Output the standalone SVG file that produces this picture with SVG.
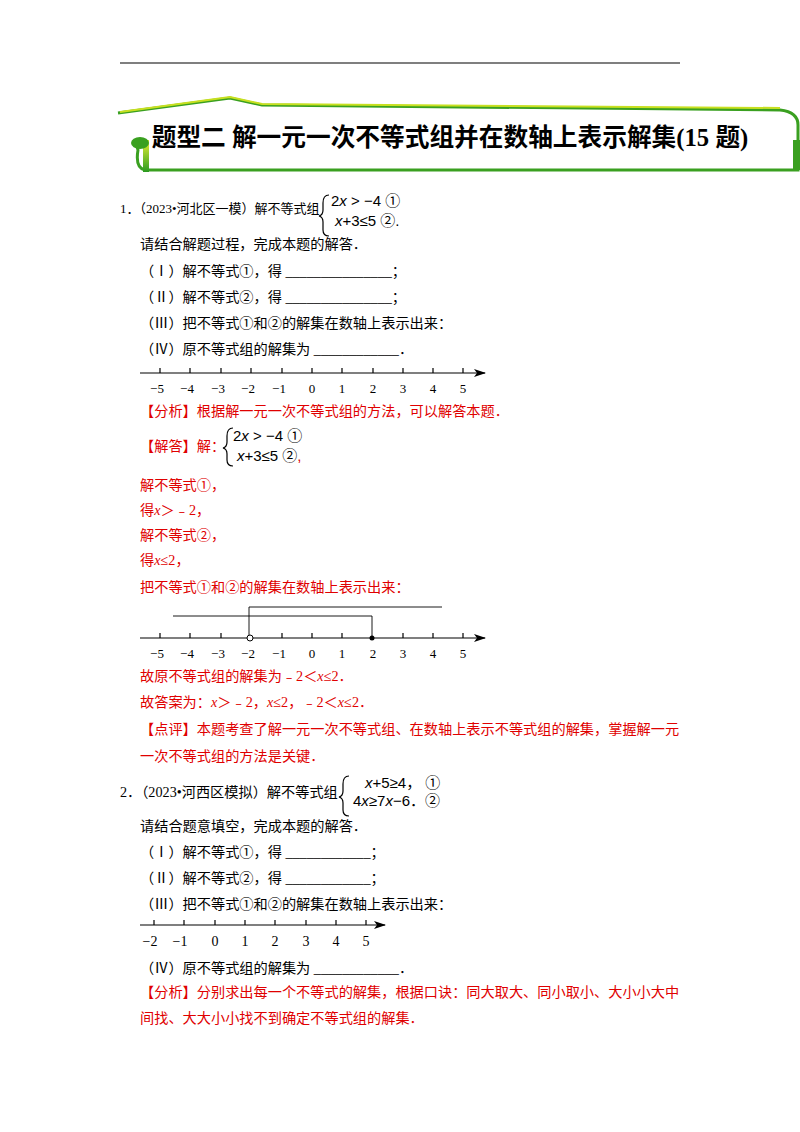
<svg xmlns="http://www.w3.org/2000/svg" width="800" height="1132" viewBox="0 0 800 1132">
<defs>
<linearGradient id="g" x1="0" y1="0" x2="0" y2="1"><stop offset="0" stop-color="#d8e830"/><stop offset="1" stop-color="#2a9a20"/></linearGradient>
<marker id="ar" markerWidth="12" markerHeight="8" refX="11" refY="4" orient="auto" markerUnits="userSpaceOnUse"><path d="M0,0 L12,4 L0,8 L3,4 Z" fill="#000"/></marker>
</defs>
<style>
text{font-family:"Liberation Serif","Noto Sans CJK SC",serif;font-size:14.2px;fill:#000}
.r{fill:#e00000}
.m{font-family:"Liberation Sans","Noto Sans CJK SC",sans-serif;font-size:15px}
.mi{font-family:"Liberation Sans",sans-serif;font-size:15px;font-style:italic}
.ax{stroke:#000;stroke-width:1.2;fill:none}
.t{font-family:"Liberation Serif",serif;font-size:13px;text-anchor:middle}
</style>
<rect width="800" height="1132" fill="#fff"/>
<line x1="120" y1="63" x2="680" y2="63" stroke="#000" stroke-width="1.2"/>
<g id="banner">
<path d="M118,113 L230,98 L262,105 L780,110 Q798,112 798,125 L798,170 L145,170 Q135,168 138,150 L135,140" fill="none" stroke="#3aa020" stroke-width="3"/>
<path d="M120,112 L230,97 L262,104 L780,108" fill="none" stroke="#c8e020" stroke-width="2"/>
<path d="M138,143 L146,143 L146,172" fill="none" stroke="url(#g)" stroke-width="6"/>
<ellipse cx="140" cy="143" rx="9" ry="6" fill="#3aa020"/>
<rect x="793" y="140" width="7" height="30" fill="#3aa020"/>
<text x="450" y="146" text-anchor="middle" style="font-family:'Liberation Serif','Noto Sans CJK SC',serif;font-size:24.7px;font-weight:bold">题型二 解一元一次不等式组并在数轴上表示解集(15 题)</text>
</g>
<g id="q1">
<text x="120" y="213" style="font-size:13px">1．（2023•河北区一模）解不等式组</text>
<path d="M329,195 Q323,195 323,203 L323,210 Q323,215 319,216 Q323,217 323,222 L323,230 Q323,236 329,236" class="ax" stroke-width="1"/>
<text x="331" y="206" class="m">2<tspan class="mi">x</tspan> &gt; −4 ①</text>
<text x="335" y="226" class="m"><tspan class="mi">x</tspan>+3≤5 ②.</text>
<text x="140" y="249">请结合解题过程，完成本题的解答．</text>
<text x="140" y="276">（Ⅰ）解不等式①，得 _______________；</text>
<text x="140" y="302">（Ⅱ）解不等式②，得 _______________；</text>
<text x="140" y="328">（Ⅲ）把不等式①和②的解集在数轴上表示出来：</text>
<text x="140" y="354">（Ⅳ）原不等式组的解集为 ____________．</text>
</g>
<g id="axis1">
<line x1="140" y1="373" x2="485" y2="373" class="ax" marker-end="url(#ar)"/>
<path d="M160,368V373M190,368V373M221,368V373M251,368V373M282,368V373M312,368V373M342,368V373M373,368V373M403,368V373M433,368V373M463,368V373" class="ax"/>
<text class="t" y="393"><tspan x="157">−5</tspan><tspan x="187">−4</tspan><tspan x="218">−3</tspan><tspan x="248">−2</tspan><tspan x="279">−1</tspan><tspan x="312">0</tspan><tspan x="342">1</tspan><tspan x="373">2</tspan><tspan x="403">3</tspan><tspan x="433">4</tspan><tspan x="463">5</tspan></text>
</g>
<g id="ans1">
<text x="140" y="416" class="r">【分析】根据解一元一次不等式组的方法，可以解答本题．</text>
<text x="140" y="451" class="r">【解答】解：</text>
<path d="M233,428 Q227,428 227,436 L227,442 Q227,447 223,448 Q227,449 227,454 L227,460 Q227,466 233,466" class="ax" stroke-width="1"/>
<text x="233" y="441" class="m">2<tspan class="mi">x</tspan> &gt; −4 ①</text>
<text x="237" y="461" class="m"><tspan class="mi">x</tspan>+3≤5 ②<tspan fill="#e00000">,</tspan></text>
<text x="140" y="490" class="r">解不等式①，</text>
<text x="140" y="515" class="r">得<tspan font-style="italic">x</tspan>＞﹣2，</text>
<text x="140" y="540" class="r">解不等式②，</text>
<text x="140" y="565" class="r">得<tspan font-style="italic">x</tspan>≤2，</text>
<text x="140" y="592" class="r">把不等式①和②的解集在数轴上表示出来：</text>
</g>
<g id="axis2">
<line x1="140" y1="638" x2="485" y2="638" class="ax" marker-end="url(#ar)"/>
<path d="M160,633V638M190,633V638M221,633V638M282,633V638M312,633V638M342,633V638M403,633V638M433,633V638M463,633V638" class="ax"/>
<path d="M173,616H372V638M249,638V607H442" fill="none" stroke="#000" stroke-width="0.9"/>
<circle cx="250" cy="638" r="3" fill="#fff" stroke="#000"/>
<circle cx="372" cy="638" r="2.5" fill="#000"/>
<text class="t" y="658"><tspan x="157">−5</tspan><tspan x="187">−4</tspan><tspan x="218">−3</tspan><tspan x="248">−2</tspan><tspan x="279">−1</tspan><tspan x="312">0</tspan><tspan x="342">1</tspan><tspan x="373">2</tspan><tspan x="403">3</tspan><tspan x="433">4</tspan><tspan x="463">5</tspan></text>
<text x="140" y="681" class="r">故原不等式组的解集为﹣2＜<tspan font-style="italic">x</tspan>≤2．</text>
<text x="140" y="707" class="r">故答案为：<tspan font-style="italic">x</tspan>＞﹣2，<tspan font-style="italic">x</tspan>≤2，﹣2＜<tspan font-style="italic">x</tspan>≤2．</text>
<text x="140" y="734" class="r">【点评】本题考查了解一元一次不等式组、在数轴上表示不等式组的解集，掌握解一元</text>
<text x="140" y="761" class="r">一次不等式组的方法是关键．</text>
</g>
<g id="q2">
<text x="120" y="797">2．（2023•河西区模拟）解不等式组</text>
<path d="M349,776 Q343,776 343,784 L343,791 Q343,796 339,797 Q343,798 343,803 L343,810 Q343,816 349,816" class="ax" stroke-width="1"/>
<text x="365" y="788" class="m"><tspan class="mi">x</tspan>+5≥4，  ①</text>
<text x="353" y="806" class="m">4<tspan class="mi">x</tspan>≥7<tspan class="mi">x</tspan>−6．②</text>
<text x="140" y="831">请结合题意填空，完成本题的解答．</text>
<text x="140" y="857">（Ⅰ）解不等式①，得 ____________；</text>
<text x="140" y="883">（Ⅱ）解不等式②，得 ____________；</text>
<text x="140" y="909">（Ⅲ）把不等式①和②的解集在数轴上表示出来：</text>
</g>
<g id="axis3">
<line x1="140" y1="925" x2="385" y2="925" class="ax" marker-end="url(#ar)"/>
<path d="M154,920V925M184,920V925M215,920V925M245,920V925M275,920V925M306,920V925M336,920V925M366,920V925" class="ax"/>
<text class="t" y="946" style="font-size:14px"><tspan x="150">−2</tspan><tspan x="180">−1</tspan><tspan x="215">0</tspan><tspan x="245">1</tspan><tspan x="275">2</tspan><tspan x="306">3</tspan><tspan x="336">4</tspan><tspan x="366">5</tspan></text>
<text x="140" y="973">（Ⅳ）原不等式组的解集为 ____________．</text>
<text x="140" y="997" class="r">【分析】分别求出每一个不等式的解集，根据口诀：同大取大、同小取小、大小小大中</text>
<text x="140" y="1023" class="r">间找、大大小小找不到确定不等式组的解集．</text>
</g>
</svg>
